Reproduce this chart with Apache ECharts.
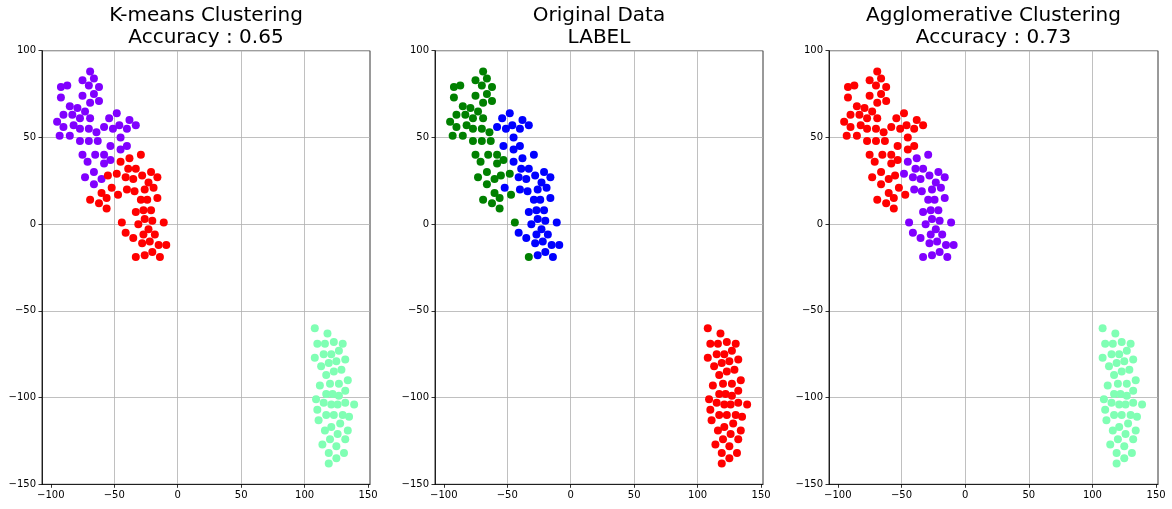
<!DOCTYPE html>
<html><head><meta charset="utf-8">
<script src="https://cdn.jsdelivr.net/npm/echarts@6/dist/echarts.min.js"></script>
<style>html,body{margin:0;padding:0;background:#fff}#c{width:1172px;height:509px}</style>
</head><body><div id="c"></div>
<script>
const panelTitles = ['K-means Clustering\nAccuracy : 0.65', 'Original Data\nLABEL', 'Agglomerative Clustering\nAccuracy : 0.73'];
const xTicks = [-100, -50, 0, 50, 100, 150];
const yTicks = [-150, -100, -50, 0, 50, 100];

// t-SNE points: group A (first 50), group B (next 50), group C (last 50)
const pointsX = [
  -69,-75,-66,-92,-87,-70,-62,-75,-66,-92,-69,-62,-85,-79,-73,-90,-83,-77,-69,-95,-90,-82,-77,-70,-64,-93,-85,-77,-70,-63,-75,-65,-58,-71,-53,-58,-66,-73,-60,-55,-48,-66,-60,-56,-47,-69,-62,-56,-44,-33,
  -48,-54,-38,-58,-51,-46,-40,-33,-45,-53,-45,-40,-38,-29,-45,-39,-33,-21,-52,-41,-35,-28,-23,-16,-40,-34,-26,-19,-29,-24,-16,-33,-27,-21,-26,-20,-11,-31,-23,-41,-27,-18,-35,-28,-22,-15,-9,-26,-20,-14,
  108,118,110,116,123,130,115,121,127,108,119,125,132,113,123,129,117,134,112,120,127,132,117,122,127,109,115,121,126,132,139,110,117,123,130,135,111,121,128,116,134,126,120,132,114,125,119,131,125,119
];
const pointsY = [
  88,83,84,79,80,80,79,74,75,73,70,71,68,67,65,63,63,61,61,59,56,57,55,55,53,51,51,48,48,48,40,40,40,36,37,35,30,27,26,28,29,23,18,15,17,14,12,9,1,-19,
  64,61,60,56,55,57,55,57,50,45,43,45,38,40,36,32,32,30,21,27,26,28,24,27,20,19,20,21,14,14,15,7,8,8,3,2,1,0,-3,-5,-6,-6,-8,-11,-10,-12,-12,-18,-16,-19,
  -60,-63,-69,-69,-68,-69,-75,-75,-73,-77,-80,-79,-78,-82,-85,-84,-87,-90,-93,-92,-92,-96,-98,-98,-99,-101,-103,-104,-104,-103,-104,-107,-110,-110,-110,-111,-113,-117,-115,-119,-119,-121,-124,-124,-127,-128,-132,-132,-135,-138
];
const labelTrue = [
  0,0,0,0,0,0,0,0,0,0,0,0,0,0,0,0,0,0,0,0,0,0,0,0,0,0,0,0,0,0,0,0,0,0,0,0,0,0,0,0,0,0,0,0,0,0,0,0,0,0,
  1,1,1,1,1,1,1,1,1,1,1,1,1,1,1,1,1,1,1,1,1,1,1,1,1,1,1,1,1,1,1,1,1,1,1,1,1,1,1,1,1,1,1,1,1,1,1,1,1,1,
  2,2,2,2,2,2,2,2,2,2,2,2,2,2,2,2,2,2,2,2,2,2,2,2,2,2,2,2,2,2,2,2,2,2,2,2,2,2,2,2,2,2,2,2,2,2,2,2,2,2
];
const labelKmeans = [
  0,0,0,0,0,0,0,0,0,0,0,0,0,0,0,0,0,0,0,0,0,0,0,0,0,0,0,0,0,0,0,0,0,0,0,0,0,0,0,1,1,0,1,1,1,1,1,1,1,1,
  0,0,0,0,0,0,0,0,0,0,0,0,1,1,1,1,1,1,1,1,1,1,1,1,1,1,1,1,1,1,1,1,1,1,1,1,1,1,1,1,1,1,1,1,1,1,1,1,1,1,
  2,2,2,2,2,2,2,2,2,2,2,2,2,2,2,2,2,2,2,2,2,2,2,2,2,2,2,2,2,2,2,2,2,2,2,2,2,2,2,2,2,2,2,2,2,2,2,2,2,2
];
const labelAgglo = [
  0,0,0,0,0,0,0,0,0,0,0,0,0,0,0,0,0,0,0,0,0,0,0,0,0,0,0,0,0,0,0,0,0,0,0,0,0,0,0,0,1,0,0,0,0,0,0,0,1,1,
  0,0,0,0,0,0,0,0,0,0,0,0,1,1,1,1,1,1,0,1,1,1,1,1,1,1,1,1,1,1,1,1,1,1,1,1,1,1,1,1,1,1,1,1,1,1,1,1,1,1,
  2,2,2,2,2,2,2,2,2,2,2,2,2,2,2,2,2,2,2,2,2,2,2,2,2,2,2,2,2,2,2,2,2,2,2,2,2,2,2,2,2,2,2,2,2,2,2,2,2,2
];
const kmeansColors = ['#8000ff', '#ff0000', '#80ffb4'];
const trueColors = ['#008000', '#0000ff', '#ff0000'];
const aggloColors = ['#ff0000', '#8000ff', '#80ffb4'];

const panels = [
  {labels: labelKmeans, colors: kmeansColors, left: 42, width: 328},
  {labels: labelTrue, colors: trueColors, left: 435, width: 328},
  {labels: labelAgglo, colors: aggloColors, left: 829, width: 329}
];
const fam = 'DejaVu Sans';
const fmt = v => String(v).replace('-', '\u2212');

const option = {
  animation: false,
  backgroundColor: '#fff',
  title: panels.map((p, i) => ({
    text: panelTitles[i], left: p.left + p.width / 2, top: 5, padding: 0, textAlign: 'center',
    textStyle: {fontFamily: fam, fontSize: 20, fontWeight: 'normal', color: '#000', lineHeight: 22}
  })),
  grid: panels.map(p => ({
    left: p.left, width: p.width, top: 50.7, height: 433.6,
    show: true, borderColor: '#000', borderWidth: 0.8, backgroundColor: 'transparent'
  })),
  xAxis: panels.map((p, i) => ({
    type: 'value', gridIndex: i, min: -106.9, max: 151.5,
    axisLine: {show: true, onZero: false, lineStyle: {color: '#000', width: 0.8}},
    axisTick: {show: true, length: 3.5, lineStyle: {color: '#000', width: 0.8}, customValues: xTicks},
    axisLabel: {customValues: xTicks, formatter: fmt, fontFamily: fam, fontSize: 10, color: '#000', margin: 6},
    splitLine: {show: true, showMinLine: false, showMaxLine: false, lineStyle: {color: '#b0b0b0', width: 0.8}}
  })),
  yAxis: panels.map((p, i) => ({
    type: 'value', gridIndex: i, min: -150, max: 100, interval: 50,
    axisLine: {show: true, onZero: false, lineStyle: {color: '#000', width: 0.8}},
    axisTick: {show: true, length: 3.5, lineStyle: {color: '#000', width: 0.8}},
    axisLabel: {formatter: fmt, fontFamily: fam, fontSize: 10, color: '#000', margin: 6},
    splitLine: {show: true, lineStyle: {color: '#b0b0b0', width: 0.8}}
  })),
  series: panels.map((p, i) => ({
    type: 'scatter', xAxisIndex: i, yAxisIndex: i, symbolSize: 8,
    data: pointsX.map((x, k) => [x, pointsY[k], p.labels[k]]),
    itemStyle: {opacity: 1, color: params => p.colors[params.data[2]]},
    emphasis: {disabled: true}
  }))
};
echarts.init(document.getElementById('c'), null, {renderer: 'canvas'}).setOption(option);
</script></body></html>
